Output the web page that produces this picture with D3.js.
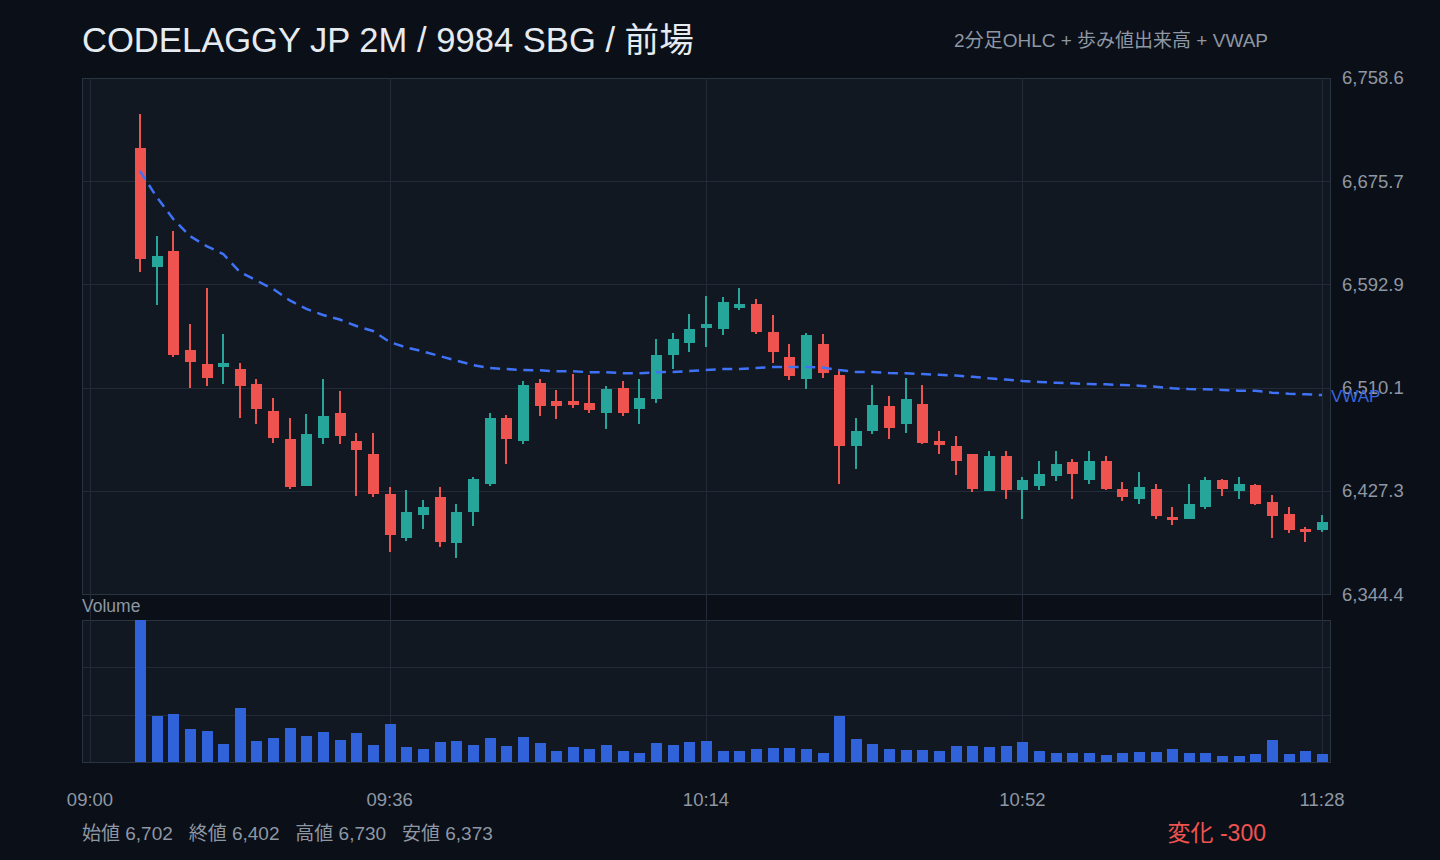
<!DOCTYPE html>
<html><head><meta charset="utf-8">
<script src="https://cdn.jsdelivr.net/npm/d3@7"></script>
<style>
html,body{margin:0;padding:0;background:#0b0f17;overflow:hidden;}
svg{display:block;}
text{font-family:"Liberation Sans",Arial,"Noto Sans CJK JP",sans-serif;}
</style></head><body>
<svg id="c" width="1440" height="860"></svg>
<script>
const candleTimes = ["09:06","09:08","09:10","09:12","09:14","09:16","09:18","09:20","09:22","09:24","09:26","09:28","09:30","09:32","09:34","09:36","09:38","09:40","09:42","09:44","09:46","09:48","09:50","09:52","09:54","09:56","09:58","10:00","10:02","10:04","10:06","10:08","10:10","10:12","10:14","10:16","10:18","10:20","10:22","10:24","10:26","10:28","10:30","10:32","10:34","10:36","10:38","10:40","10:42","10:44","10:46","10:48","10:50","10:52","10:54","10:56","10:58","11:00","11:02","11:04","11:06","11:08","11:10","11:12","11:14","11:16","11:18","11:20","11:22","11:24","11:26","11:28"];
const openP = [6702,6607,6620,6540,6529,6527,6525,6513,6491,6469,6431,6470,6490,6467,6457,6425,6389,6408,6422,6385,6410,6433,6486,6467,6514,6499,6499,6498,6490,6510,6493,6501,6536,6546,6558,6557,6574,6577,6555,6535,6517,6545,6520,6463,6475,6495,6481,6497,6467,6463,6457,6427,6455,6428,6431,6439,6450,6436,6451,6429,6421,6429,6406,6405,6414,6436,6427,6432,6418,6409,6397,6396];
const highP = [6730,6632,6636,6561,6590,6553,6530,6517,6502,6486,6489,6517,6507,6474,6474,6430,6428,6420,6430,6417,6438,6490,6488,6515,6517,6508,6521,6520,6511,6515,6517,6549,6554,6569,6584,6583,6590,6581,6568,6545,6554,6553,6525,6486,6512,6503,6518,6512,6475,6471,6457,6459,6459,6438,6451,6459,6453,6459,6455,6434,6442,6433,6414,6433,6438,6437,6438,6433,6424,6414,6398,6408];
const lowP = [6603,6576,6535,6510,6511,6513,6486,6481,6466,6429,6431,6465,6465,6423,6422,6378,6387,6397,6382,6373,6399,6431,6449,6465,6487,6485,6494,6490,6477,6487,6481,6498,6525,6539,6543,6552,6572,6553,6530,6516,6509,6518,6433,6445,6473,6469,6474,6465,6457,6440,6426,6427,6421,6405,6428,6435,6421,6433,6428,6419,6417,6405,6400,6405,6413,6423,6421,6416,6389,6393,6386,6394];
const closeP = [6613,6616,6536,6531,6518,6530,6511,6493,6470,6430,6473,6487,6471,6460,6425,6392,6410,6414,6386,6410,6437,6486,6469,6512,6495,6495,6496,6492,6509,6490,6502,6536,6549,6557,6561,6579,6577,6555,6539,6519,6552,6522,6463,6475,6496,6478,6501,6466,6464,6451,6429,6455,6428,6436,6441,6449,6441,6451,6429,6422,6430,6407,6404,6417,6436,6429,6433,6417,6407,6396,6394,6402];
const volumeK = [426,138,144,99,93,54,162,63,72,102,78,90,66,87,51,114,45,39,60,63,51,72,48,75,57,33,45,39,51,33,27,57,51,60,63,33,33,39,42,42,39,27,138,69,54,39,36,36,33,48,48,45,48,60,33,27,27,27,21,27,30,30,39,27,27,18,18,24,66,24,33,24];
const vwapP = [6683.9,6663.1,6645.4,6631.7,6623.7,6617.3,6602.9,6596.0,6589.2,6580.0,6573.2,6568.4,6564.7,6559.5,6555.5,6546.7,6542.3,6539.1,6535.4,6531.8,6528.2,6525.8,6525.0,6524.2,6524.0,6523.2,6523.2,6522.4,6522.4,6521.6,6521.6,6522.4,6522.6,6523.4,6524.2,6525.0,6525.0,6525.8,6526.6,6526.6,6526.6,6526.2,6524.2,6522.6,6522.6,6521.8,6521.6,6521.0,6520.4,6519.7,6518.8,6517.5,6516.5,6515.4,6514.6,6514.0,6513.5,6513.0,6512.7,6512.2,6511.6,6510.8,6509.5,6508.9,6508.7,6508.2,6507.6,6507.6,6506.0,6505.2,6504.7,6504.1];
const timeTicks = ["09:00","09:36","10:14","10:52","11:28"];
const priceTicks = [6344.4,6427.3,6510.1,6592.9,6675.7,6758.6];
const titleText = "CODELAGGY JP 2M / 9984 SBG / 前場";
const subtitleText = "2分足OHLC + 歩み値出来高 + VWAP";
const statLabels = ["始値","終値","高値","安値"];
const statValues = [6702,6402,6730,6373];
const changeValue = -300;

const W=1440,H=860;
const P={l:82,r:1330,t:78,b:594};
const V={t:620,b:762};
const C={bg:"#0b0f17",panel:"#111821",grid:"#222b37",frame:"#2a3441",up:"#26a69a",down:"#ef5350",vwap:"#3f72f6",vol:"#3063d9",text:"#8e97a4",title:"#e6ebf2"};

const parse=d3.timeParse("%H:%M");
const data=candleTimes.map((t,i)=>({t:parse(t),o:openP[i],h:highP[i],l:lowP[i],c:closeP[i],v:volumeK[i],w:vwapP[i]}));

const svg=d3.select("#c");
svg.append("rect").attr("width",W).attr("height",H).attr("fill",C.bg);

const x=d3.scaleTime().domain([parse(timeTicks[0]),parse(timeTicks[timeTicks.length-1])]).range([90,1322]);
const lo=d3.min(lowP),hi=d3.max(highP),pad=(hi-lo)*0.08;
const y=d3.scaleLinear().domain([lo-pad,hi+pad]).range([P.b,P.t]);
const yv=d3.scaleLinear().domain([0,d3.max(volumeK)]).range([V.b,V.t]);

// panels
svg.append("rect").attr("x",P.l+0.5).attr("y",P.t+0.5).attr("width",P.r-P.l).attr("height",P.b-P.t).attr("fill",C.panel).attr("stroke",C.frame);
svg.append("rect").attr("x",P.l+0.5).attr("y",V.t+0.5).attr("width",P.r-P.l).attr("height",V.b-V.t).attr("fill",C.panel).attr("stroke",C.frame);

// horizontal grid price
svg.append("g").selectAll("line").data(priceTicks.slice(1,-1)).join("line")
  .attr("x1",P.l).attr("x2",P.r).attr("y1",d=>Math.round(y(d))+0.5).attr("y2",d=>Math.round(y(d))+0.5)
  .attr("stroke",C.grid);
// volume grid
svg.append("g").selectAll("line").data([1,2]).join("line")
  .attr("x1",P.l).attr("x2",P.r)
  .attr("y1",d=>Math.round(yv(d3.max(volumeK)*d/3))+0.5).attr("y2",d=>Math.round(yv(d3.max(volumeK)*d/3))+0.5)
  .attr("stroke",C.grid);
// vertical grid
svg.append("g").selectAll("line").data(timeTicks).join("line")
  .attr("x1",d=>Math.round(x(parse(d)))+0.5).attr("x2",d=>Math.round(x(parse(d)))+0.5)
  .attr("y1",P.t).attr("y2",V.b).attr("stroke",C.grid);

// volume bars
svg.append("g").selectAll("rect").data(data).join("rect")
  .attr("x",d=>Math.round(x(d.t))-5.5).attr("width",11)
  .attr("y",d=>yv(d.v)).attr("height",d=>V.b-yv(d.v))
  .attr("fill",C.vol).attr("shape-rendering","crispEdges");

// candles
const cg=svg.append("g").attr("shape-rendering","crispEdges");
const cs=cg.selectAll("g").data(data).join("g");
cs.append("rect").attr("x",d=>Math.round(x(d.t))-1).attr("width",2)
  .attr("y",d=>y(d.h)).attr("height",d=>y(d.l)-y(d.h))
  .attr("fill",d=>d.c>=d.o?C.up:C.down);
cs.append("rect").attr("x",d=>Math.round(x(d.t))-5.5).attr("width",11)
  .attr("y",d=>y(Math.max(d.o,d.c))).attr("height",d=>Math.max(2,Math.abs(y(d.o)-y(d.c))))
  .attr("fill",d=>d.c>=d.o?C.up:C.down);

// vwap
const line=d3.line().x(d=>x(d.t)).y(d=>y(d.w));
svg.append("path").datum(data).attr("d",line).attr("fill","none")
  .attr("stroke",C.vwap).attr("stroke-width",2.5).attr("stroke-dasharray","10,6.6");
const last=data[data.length-1];

// right axis labels
const fmt=d3.format(",.1f");
svg.append("g").selectAll("text").data(priceTicks).join("text")
  .attr("x",1342).attr("y",d=>y(d)).attr("dy","0.35em")
  .attr("fill",C.text).attr("font-size",18.5).text(d=>fmt(d));

svg.append("text").attr("x",x(last.t)+9).attr("y",y(last.w)).attr("dy","0.38em")
  .attr("fill","#3a66dd").attr("font-size",17).text("VWAP");

// time labels
svg.append("g").selectAll("text").data(timeTicks).join("text")
  .attr("x",d=>x(parse(d))).attr("y",800).attr("dy","0.35em").attr("text-anchor","middle")
  .attr("fill",C.text).attr("font-size",18.5).text(d=>d);

// volume label
svg.append("text").attr("x",82).attr("y",606).attr("dy","0.35em").attr("fill",C.text).attr("font-size",17.5).text("Volume");

// title & subtitle
svg.append("text").attr("x",82).attr("y",52).attr("fill",C.title).attr("font-size",34.6).text(titleText);
svg.append("text").attr("x",1268).attr("y",40.5).attr("dy","0.35em").attr("text-anchor","end").attr("fill",C.text).attr("font-size",19).text(subtitleText);

// stats
const f0=d3.format(",");
svg.append("text").attr("x",82).attr("y",833).attr("dy","0.35em").attr("fill",C.text).attr("font-size",19)
  .text(statLabels.map((l,i)=>l+" "+f0(statValues[i])).join("\u00a0\u00a0\u00a0"));
svg.append("text").attr("x",1266).attr("y",833).attr("dy","0.35em").attr("text-anchor","end")
  .attr("fill",changeValue<0?C.down:C.up).attr("font-size",23).text("変化 "+(changeValue>0?"+":"")+changeValue);
</script></body></html>
